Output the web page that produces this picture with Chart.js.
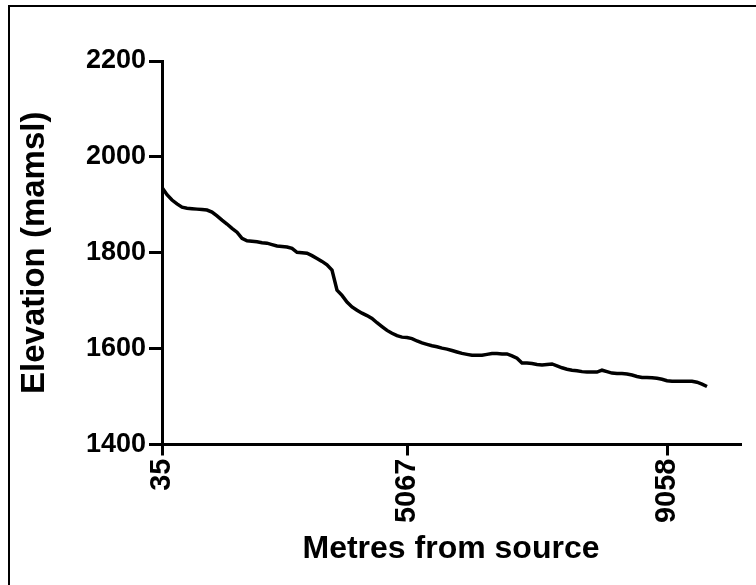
<!DOCTYPE html>
<html>
<head>
<meta charset="utf-8">
<script src="https://cdn.jsdelivr.net/npm/chart.js@4.4.1/dist/chart.umd.min.js"></script>
<style>
    html, body { margin: 0; padding: 0; background: #fff; }
    canvas { display: block; }
</style>
</head>
<body>
<canvas id="elevationChart" width="756" height="585"></canvas>
<script>
// elevation (mamsl) along the stream, one reading per survey station
const elevation = [
    1936, 1921, 1910, 1902, 1895, 1893, 1892, 1891, 1890, 1889,
    1885, 1877, 1868, 1860, 1851, 1843, 1830, 1825, 1824, 1823,
    1821, 1820, 1817, 1814, 1813, 1812, 1809, 1801, 1800, 1799,
    1794, 1788, 1782, 1775, 1764, 1722, 1711, 1697, 1687, 1680,
    1674, 1669, 1663, 1654, 1646, 1638, 1632, 1627, 1624, 1623,
    1621, 1616, 1612, 1609, 1606, 1604, 1601, 1599, 1596, 1593,
    1590, 1588, 1586, 1586, 1586, 1588, 1590, 1590, 1589, 1589,
    1585, 1580, 1570, 1570, 1569, 1567, 1566, 1567, 1568, 1564,
    1560, 1557, 1555, 1554, 1552, 1551, 1551, 1551, 1555, 1552,
    1549, 1548, 1548, 1547, 1545, 1542, 1540, 1540, 1539, 1538,
    1536, 1533, 1532, 1532, 1532, 1532, 1532, 1530, 1526, 1521
];

// stations that carry a distance label on the x axis
const tickStations = [0, 49, 101];
const tickLabels = ['35', '5067', '9058'];

const yTicks = [1400, 1600, 1800, 2000, 2200];

const points = elevation.map((v, i) => ({ x: i, y: v }));

const framePlugin = {
    id: 'frame',
    afterDraw: function(chart) {
        const ctx = chart.ctx;
        ctx.save();
        ctx.strokeStyle = '#000';
        ctx.lineWidth = 2;
        ctx.beginPath();
        ctx.moveTo(9, 585);
        ctx.lineTo(9, 6);
        ctx.lineTo(756, 6);
        ctx.stroke();
        ctx.restore();
    }
};

const ctx = document.getElementById('elevationChart');
let myChart = new Chart(ctx, {
    type: 'line',
    data: {
        datasets: [{
            data: points,
            borderColor: '#000',
            borderWidth: 3.5,
            pointRadius: 0,
            tension: 0,
            fill: false
        }]
    },
    options: {
        responsive: false,
        animation: false,
        layout: {
            padding: { top: 61, right: 16, bottom: 0, left: 0 }
        },
        plugins: {
            legend: { display: false },
            tooltip: { enabled: false }
        },
        scales: {
            x: {
                type: 'linear',
                min: 0,
                max: 115.6,
                afterBuildTicks: function(scale) {
                    scale.ticks = tickStations.map(v => ({ value: v }));
                },
                afterFit: function(scale) {
                    scale.height = 140.5;
                },
                ticks: {
                    autoSkip: false,
                    minRotation: 90,
                    maxRotation: 90,
                    padding: 3,
                    color: '#000',
                    font: { family: 'Liberation Sans', size: 29, weight: 'bold' },
                    callback: function(value) {
                        return tickLabels[tickStations.indexOf(value)];
                    }
                },
                grid: {
                    drawOnChartArea: false,
                    drawTicks: true,
                    tickLength: 11,
                    color: '#000',
                    lineWidth: 3
                },
                border: { display: true, color: '#000', width: 3 },
                title: {
                    display: true,
                    text: 'Metres from source',
                    color: '#000',
                    font: { family: 'Liberation Sans', size: 32, weight: 'bold' },
                    padding: { top: 0, bottom: 17 }
                }
            },
            y: {
                min: 1400,
                max: 2200,
                afterBuildTicks: function(scale) {
                    scale.ticks = yTicks.map(v => ({ value: v }));
                },
                afterFit: function(scale) {
                    scale.width = 162;
                },
                ticks: {
                    padding: 3,
                    color: '#000',
                    font: { family: 'Liberation Sans', size: 27, weight: 'bold' },
                    callback: function(value) {
                        return String(value);
                    }
                },
                grid: {
                    drawOnChartArea: false,
                    drawTicks: true,
                    tickLength: 13,
                    color: '#000',
                    lineWidth: 3
                },
                border: { display: true, color: '#000', width: 3 },
                title: {
                    display: true,
                    text: 'Elevation (mamsl)',
                    color: '#000',
                    font: { family: 'Liberation Sans', size: 33, weight: 'bold' },
                    padding: { top: 15, bottom: 0 }
                }
            }
        }
    },
    plugins: [framePlugin]
});
</script>
</body>
</html>
